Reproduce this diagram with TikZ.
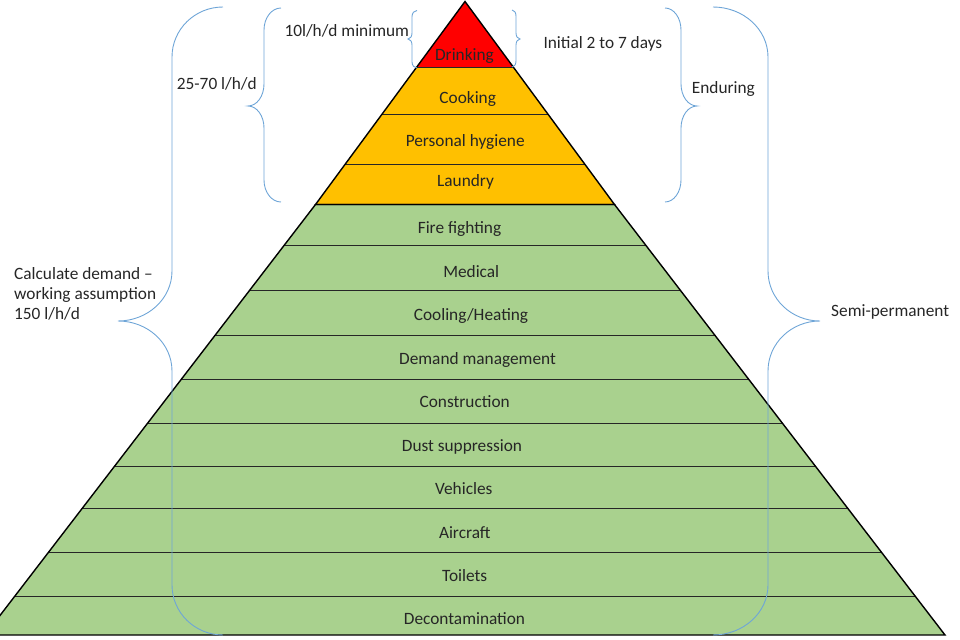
\documentclass[tikz,border=0pt]{standalone}
\usepackage{fontspec}
\setmainfont{Carlito}
\definecolor{cred}{RGB}{255,0,0}
\definecolor{corange}{RGB}{255,192,0}
\definecolor{cgreen}{RGB}{169,209,142}
\definecolor{cbrace}{RGB}{110,165,215}
\tikzset{
  lbl/.style={font=\fontsize{17.3bp}{20bp}\selectfont, inner sep=0pt, text=black!85},
  rowlbl/.style={lbl, anchor=base},
  sidelbl/.style={lbl, anchor=base west},
  outline/.style={draw=black, line width=1.4bp, line join=miter},
  rowline/.style={draw=black!85, line width=1bp},
  bracestyle/.style={draw=cbrace, line width=0.9bp},
}
% #1 open end x, #2 spine x, #3 tip x, #4 top y, #5 tip y, #6 bottom y, #7 arc height
\newcommand{\drawbrace}[8][]{%
  \draw[bracestyle,#1] (#2,#5)
    .. controls ({#2+0.5523*(#3-#2)},#5) and (#3,{#5+0.4477*#8}) .. (#3,{#5+#8})
    -- (#3,{#6-#8})
    .. controls (#3,{#6-0.4477*#8}) and ({#4+0.5523*(#3-#4)},#6) .. (#4,#6)
    .. controls ({#4+0.5523*(#3-#4)},#6) and (#3,{#6+0.4477*#8}) .. (#3,{#6+#8})
    -- (#3,{#7-#8})
    .. controls (#3,{#7-0.4477*#8}) and ({#2+0.5523*(#3-#2)},#7) .. (#2,#7);}
\begin{document}
\begin{tikzpicture}[x=1bp,y=-1bp]
\useasboundingbox (0,0) rectangle (960,640);
\clip (0,0) rectangle (960,640);
% fills
\fill[cgreen] (315.5,204.5) -- (614.5,204.5) -- (945,635) -- (-15,635) -- cycle;
\fill[corange] (416.02,68) -- (513.98,68) -- (614.5,204.5) -- (315.5,204.5) -- cycle;
\fill[cred] (465,1.5) -- (513.98,68) -- (416.02,68) -- cycle;
% row separators
\foreach \y/\h in {68/48.98, 114.3/83.08, 164.3/119.9, 246/181.4, 290.7/215.7,
  335.3/249.9, 379.3/283.7, 423.3/317.5, 466/350.3, 508.3/382.7, 552.7/416.8, 596.7/450.6}
  \draw[rowline] ({465-\h},\y) -- ({465+\h},\y);
% outlines
\draw[outline] (465,1.5) -- (614.5,204.5) -- (315.5,204.5) -- cycle;
\draw[outline] (315.5,204.5) -- (614.5,204.5) -- (945,635) -- (-15,635) -- cycle;
% row labels
\node[rowlbl] (drink) at (464.5,60.5) {Drinking};
\node[rowlbl] (cook) at (467.7,104) {Cooking};
\node[rowlbl] (hyg) at (465.2,147) {Personal hygiene};
\node[rowlbl] (laun) at (465.5,187) {Laundry};
\node[rowlbl] (fire) at (459.5,233.3) {Fire fighting};
\node[rowlbl] (med) at (471.2,277.3) {Medical};
\node[rowlbl] (cool) at (471,320.7) {Cooling/Heating};
\node[rowlbl] (dem) at (477.5,364.3) {Demand management};
\node[rowlbl] (cons) at (464.7,407.7) {Construction};
\node[rowlbl] (dust) at (462,451) {Dust suppression};
\node[rowlbl] (veh) at (463.8,494) {Vehicles};
\node[rowlbl] (air) at (464.8,538.3) {Aircraft};
\node[rowlbl] (toil) at (464.7,581.7) {Toilets};
\node[rowlbl] (deco) at (464.5,624.3) {Decontamination};
% braces
\drawbrace{417}{412}{408}{10.5}{39}{68}{6}
\drawbrace{512}{516}{520}{10}{39}{67}{6}
\drawbrace{281}{264}{248}{8}{106}{202}{22}
\drawbrace{665}{681}{697}{8}{106}{202}{22}
\drawbrace{223}{172}{118}{7}{321}{635}{50}
\drawbrace{713}{768}{820}{7}{321}{635}{50}
% side labels
\node[sidelbl] (min) at (284.3,36.7) {10l/h/d minimum};
\node[sidelbl] (init) at (543.3,48.3) {Initial 2 to 7 days};
\node[sidelbl] (rng) at (176.7,90) {25-70 l/h/d};
\node[sidelbl] (endu) at (691.7,94) {Enduring};
\node[sidelbl] (semi) at (831,316.5) {Semi-permanent};
\node[lbl, anchor=north west, align=left] (calc) at (14,267) {Calculate demand –\\working assumption\\150 l/h/d};
\end{tikzpicture}
\end{document}
